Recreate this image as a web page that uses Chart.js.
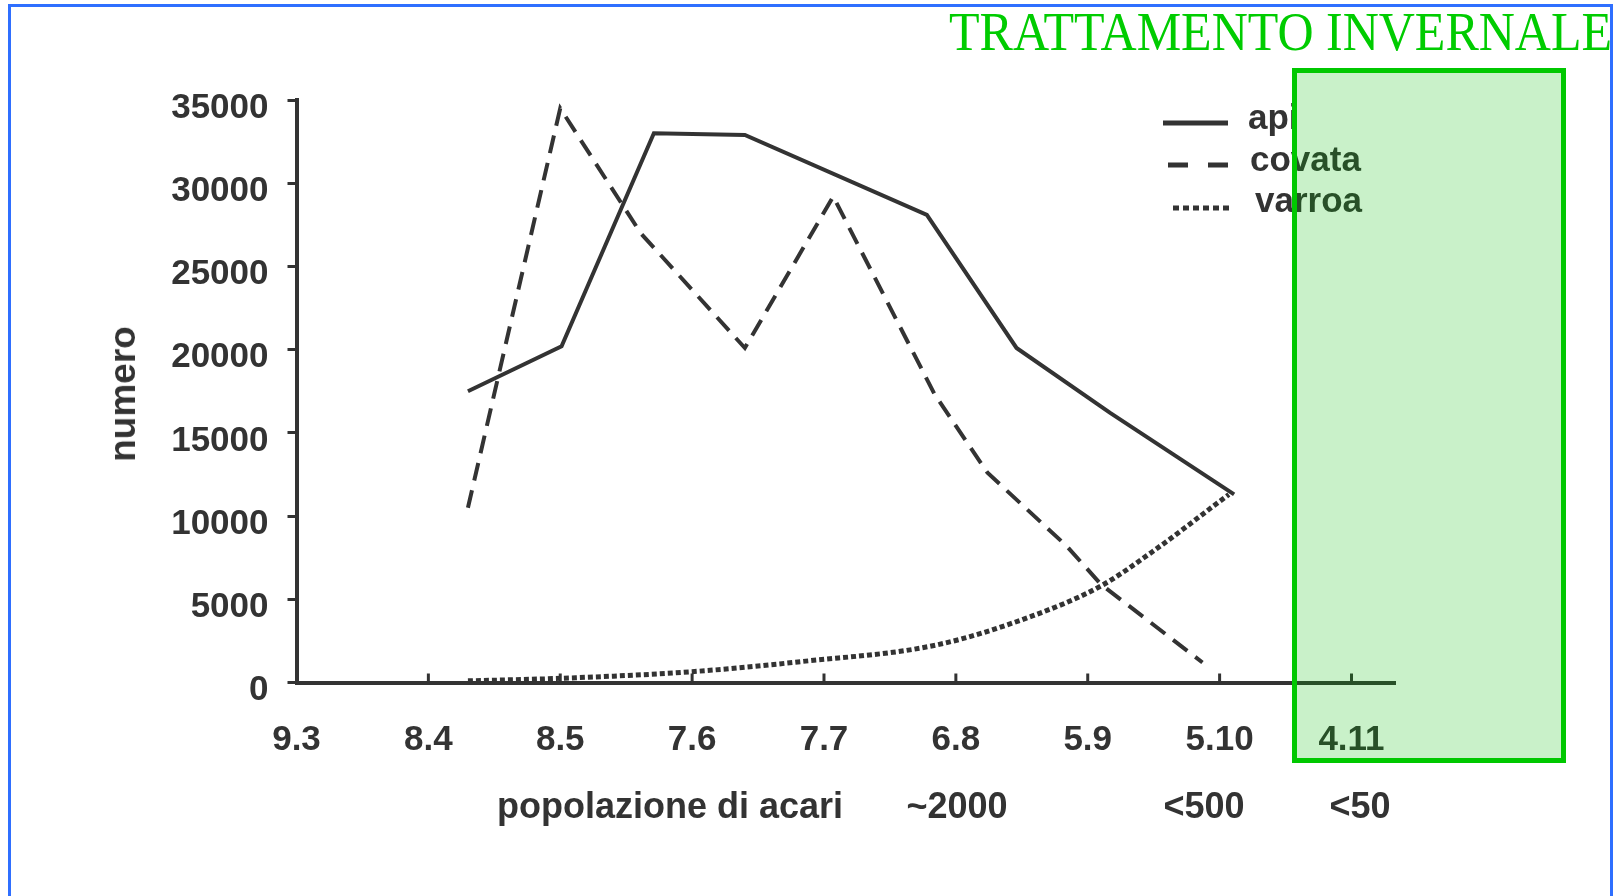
<!DOCTYPE html>
<html>
<head>
<meta charset="utf-8">
<script src="https://cdn.jsdelivr.net/npm/chart.js@4.4.1/dist/chart.umd.min.js"></script>
<style>
  body { margin: 0; background: #fff; }
  #wrap { position: relative; width: 1614px; height: 896px; overflow: hidden; }
  #frame { position: absolute; left: 8px; top: 4px; width: 1599px; height: 900px; border: 3px solid #2f6fff; }
  .lbl { position: absolute; font: bold 36px "Liberation Sans", Arial, sans-serif; color: #333; line-height: 36px; white-space: nowrap; }
  .leg { position: absolute; font: bold 35px "Liberation Sans", Arial, sans-serif; color: #333; line-height: 35px; white-space: nowrap; }
  #title { position: absolute; left: 949px; top: 5px; font: 50px "Liberation Serif", "Times New Roman", serif; line-height: 50px; color: #00cc00; white-space: nowrap; transform: scaleY(1.08); transform-origin: left top; }
  #box { position: absolute; left: 1292px; top: 68px; width: 274px; height: 695px; box-sizing: border-box; border: 5px solid #00c800; background: rgba(0, 190, 0, 0.21); }
</style>
</head>
<body>
<div id="wrap">
  <canvas id="myChart" width="1614" height="896"></canvas>

  <!-- legend -->
  <svg style="position:absolute;left:0;top:0" width="1614" height="260">
    <line x1="1163" y1="123" x2="1228" y2="123" stroke="#333" stroke-width="5"/>
    <line x1="1168" y1="165" x2="1228" y2="165" stroke="#333" stroke-width="5" stroke-dasharray="20 20"/>
    <line x1="1173" y1="208" x2="1230" y2="208" stroke="#333" stroke-width="5" stroke-dasharray="6 4"/>
  </svg>
  <div class="leg" style="left:1248px;top:99px">api</div>
  <div class="leg" style="left:1250px;top:141px">covata</div>
  <div class="leg" style="left:1255px;top:182px">varroa</div>

  <!-- axis titles and notes -->
  <div class="lbl" style="left:123px;top:394px;font-size:37px;transform:translate(-50%,-50%) rotate(-90deg)">numero</div>
  <div class="lbl" style="left:497px;top:788px">popolazione di acari</div>
  <div class="lbl" style="left:957px;top:788px;transform:translateX(-50%)">~2000</div>
  <div class="lbl" style="left:1204px;top:788px;transform:translateX(-50%)">&lt;500</div>
  <div class="lbl" style="left:1360px;top:788px;transform:translateX(-50%)">&lt;50</div>

  <div id="title">TRATTAMENTO INVERNALE</div>
  <div id="box"></div>
  <div id="frame"></div>
</div>

<script>
// x categories (dates), placed at positions 0..8
const xLabels = ['9.3', '8.4', '8.5', '7.6', '7.7', '6.8', '5.9', '5.10', '4.11'];

// api (solid)
const apiX = [1.30, 2.01, 2.71, 3.40, 4.78, 5.46, 6.17, 7.11];
const apiY = [17500, 20200, 33000, 32900, 28100, 20100, 16200, 11300];

// covata (dashed)
const covataX = [1.30, 2.00, 2.61, 3.40, 4.07, 4.84, 5.24, 5.84, 6.10, 6.87];
const covataY = [10500, 34500, 27000, 20100, 29200, 17300, 12600, 8200, 5900, 1200];

// varroa (dotted)
const varroaX = [1.30, 2.00, 3.00, 3.82, 4.85, 5.58, 6.10, 6.48, 7.07];
const varroaY = [100, 250, 650, 1250, 2250, 4000, 5800, 7800, 11300];

const toPoints = (xs, ys) => xs.map((x, i) => ({ x: x, y: ys[i] }));

const ink = '#333';
const tickFont = { family: '"Liberation Sans", Arial, sans-serif', size: 35, weight: 'bold' };

// small tick marks pointing up from the x axis
const innerTicks = {
    id: 'innerTicks',
    afterDraw(chart) {
        const x = chart.scales.x;
        const ctx = chart.ctx;
        const bottom = chart.chartArea.bottom;
        ctx.save();
        ctx.strokeStyle = ink;
        ctx.lineWidth = 3;
        x.ticks.forEach(t => {
            if (t.value === 0) return;
            const px = x.getPixelForValue(t.value);
            ctx.beginPath();
            ctx.moveTo(px, bottom);
            ctx.lineTo(px, bottom - 9);
            ctx.stroke();
        });
        ctx.restore();
    }
};

const ctx = document.getElementById('myChart').getContext('2d');
const myChart = new Chart(ctx, {
    type: 'line',
    data: {
        datasets: [
            {
                label: 'api',
                data: toPoints(apiX, apiY),
                borderColor: ink,
                borderWidth: 4,
                pointRadius: 0,
                tension: 0
            },
            {
                label: 'covata',
                data: toPoints(covataX, covataY),
                borderColor: ink,
                borderWidth: 4,
                borderDash: [18, 10],
                pointRadius: 0,
                tension: 0
            },
            {
                label: 'varroa',
                data: toPoints(varroaX, varroaY),
                borderColor: ink,
                borderWidth: 5,
                borderDash: [5, 3],
                pointRadius: 0,
                cubicInterpolationMode: 'monotone'
            }
        ]
    },
    options: {
        responsive: false,
        animation: false,
        devicePixelRatio: 1,
        layout: { padding: { left: 0, top: 100, right: 219, bottom: 0 } },
        plugins: {
            legend: { display: false },
            tooltip: { enabled: false }
        },
        scales: {
            x: {
                type: 'linear',
                min: 0,
                max: 8.33,
                afterFit: s => { s.height = 213.5; },
                border: { color: ink, width: 4 },
                grid: { display: true, drawOnChartArea: false, drawTicks: false },
                ticks: {
                    stepSize: 1,
                    includeBounds: false,
                    autoSkip: false,
                    maxRotation: 0,
                    padding: 37,
                    color: ink,
                    font: tickFont,
                    callback: v => xLabels[v]
                }
            },
            y: {
                min: 0,
                max: 35000,
                afterFit: s => { s.width = 296.5; },
                border: { color: ink, width: 4 },
                grid: { drawOnChartArea: false, drawTicks: true, tickLength: 9, color: ink, lineWidth: 3 },
                ticks: {
                    stepSize: 5000,
                    padding: 19,
                    labelOffset: 8,
                    color: ink,
                    font: tickFont,
                    callback: v => String(v)
                }
            }
        }
    },
    plugins: [innerTicks]
});
</script>
</body>
</html>
